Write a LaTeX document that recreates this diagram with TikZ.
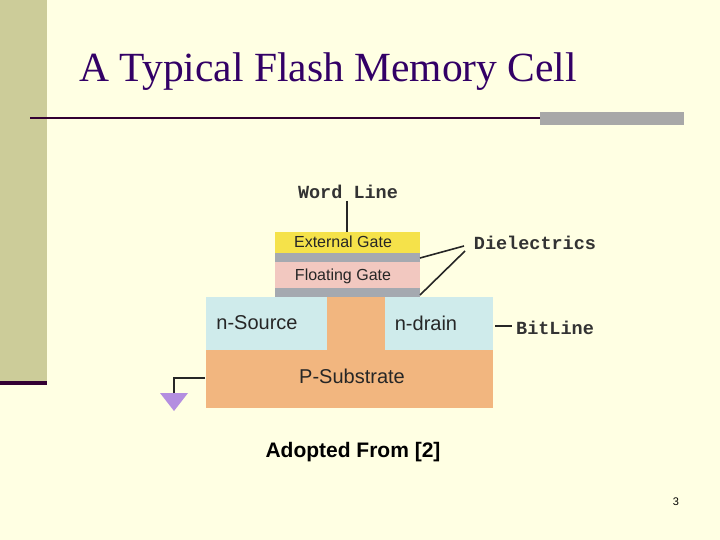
\documentclass[tikz,border=0pt]{standalone}
\usepackage{fontspec}
\setmainfont{Liberation Serif}
\newfontfamily\sansf{Liberation Sans}
\newfontfamily\monof{Liberation Mono}
\begin{document}
\begin{tikzpicture}[x=1pt,y=-1pt,
  lbl/.style={font=\sansf\fontsize{16}{18}\selectfont, text=black!85},
  big/.style={font=\sansf\fontsize{20}{22}\selectfont, text=black!85},
  mono/.style={font=\monof\bfseries\fontsize{18.5}{20}\selectfont, text=black!80},
  ln/.style={draw=black!85, line width=1.6pt}]
\definecolor{bgc}{HTML}{FFFFE3}
\definecolor{barc}{HTML}{CCCC99}
\definecolor{titc}{HTML}{330066}
\definecolor{linec}{HTML}{330033}
\definecolor{grayb}{HTML}{A8A8A8}
\definecolor{ygate}{HTML}{F5E24A}
\definecolor{pgate}{HTML}{F2C8C0}
\definecolor{nreg}{HTML}{CFEBEB}
\definecolor{sub}{HTML}{F2B67F}
\definecolor{diel}{HTML}{A5A9B0}
\definecolor{gnd}{HTML}{B48EE0}
\fill[bgc] (0,0) rectangle (720,540);
\useasboundingbox (0,0) rectangle (720,540);
\fill[barc] (0,0) rectangle (47,383);
\fill[linec] (0,381) rectangle (47,385);
\node[anchor=west, text=titc, font=\fontsize{41.5}{46}\selectfont] (title) at (76,72) {A Typical Flash Memory Cell};
\draw[linec, line width=1.2pt] (30,118) -- (540,118);
\fill[grayb] (540,112) rectangle (684,125);
% cell
\fill[sub] (206,297) rectangle (493,408);
\fill[nreg] (206,297) rectangle (327,350);
\fill[nreg] (385,297) rectangle (493,350);
\fill[ygate] (275,232) rectangle (420,253);
\fill[diel] (275,253) rectangle (420,262);
\fill[pgate] (275,262) rectangle (420,288);
\fill[diel] (275,288) rectangle (420,297);
\node[lbl] (eg) at (343,242) {External Gate};
\node[lbl] (fg) at (343,276) {Floating Gate};
\node[big] (ns) at (257,323) {n-Source};
\node[big] (nd) at (426,323) {n-drain};
\node[big] (ps) at (352,376) {P-Substrate};
\node[mono] (wl) at (348,192) {Word Line};
\node[mono] (dl) at (535,243) {Dielectrics};
\node[mono] (bl) at (555,328) {BitLine};
\coordinate (wlb) at (347,232);
\coordinate (d1) at (420,258);
\coordinate (d2) at (420,295);
\coordinate (bl0) at (495,326);
\draw[ln] (347,201) -- (wlb);
\draw[ln] (d1) -- (464,246);
\draw[ln] (d2) -- (465,251);
\draw[ln] (bl0) -- (512,326);
\draw[ln, line width=1.2pt] (205,378) -- (174,378) -- (174,393);
\fill[gnd] (160,393) -- (188,393) -- (174,411) -- cycle;
\node[font=\sansf\bfseries\fontsize{21}{24}\selectfont] (ad) at (353,452) {Adopted From [2]};
\node[font=\sansf\fontsize{11}{12}\selectfont] (pg) at (676,502) {3};
\end{tikzpicture}
\end{document}
